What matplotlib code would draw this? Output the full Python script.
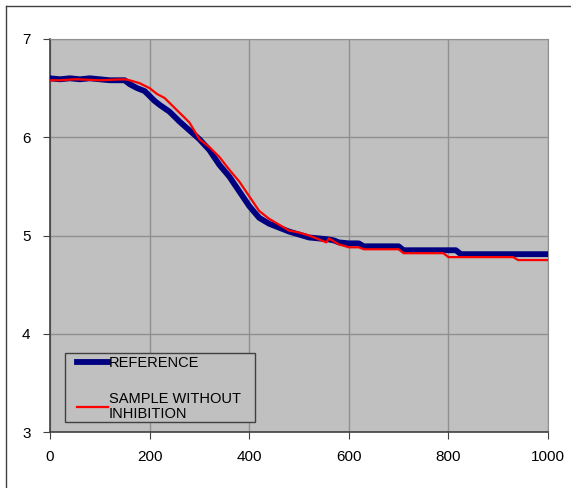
import matplotlib.pyplot as plt
from matplotlib.lines import Line2D
from matplotlib.patches import Rectangle

plt.rcParams['font.family'] = ['Liberation Sans', 'DejaVu Sans']

# curva de referencia (azul)
ref_x = [0, 20, 40, 60, 80, 100, 120, 150, 160, 175, 190, 200, 210, 220, 240,
         260, 280, 300, 320, 340, 360, 380, 400, 420, 440, 460, 480, 500, 520,
         540, 560, 570, 580, 600, 620, 630, 700, 710, 815, 825, 1000]
ref_y = [6.60, 6.59, 6.60, 6.59, 6.60, 6.59, 6.58, 6.58, 6.54, 6.50, 6.47, 6.42,
         6.37, 6.33, 6.26, 6.16, 6.07, 5.98, 5.87, 5.72, 5.60, 5.45, 5.30, 5.18,
         5.12, 5.08, 5.04, 5.01, 4.98, 4.97, 4.96, 4.95, 4.93, 4.92, 4.92, 4.89,
         4.89, 4.85, 4.85, 4.81, 4.81]

# muestra sin inhibicion (rojo)
smp_x = [0, 20, 50, 100, 150, 160, 180, 200, 215, 230, 250, 270, 280, 300, 320,
         340, 360, 380, 400, 420, 440, 460, 480, 500, 520, 540, 555, 560, 580,
         600, 620, 630, 700, 710, 790, 800, 930, 940, 1000]
smp_y = [6.58, 6.58, 6.59, 6.58, 6.59, 6.58, 6.55, 6.50, 6.44, 6.40, 6.30, 6.20,
         6.15, 5.98, 5.90, 5.80, 5.67, 5.55, 5.40, 5.25, 5.17, 5.11, 5.05, 5.03,
         5.00, 4.96, 4.93, 4.97, 4.91, 4.88, 4.88, 4.86, 4.86, 4.82, 4.82, 4.78,
         4.78, 4.75, 4.75]

x_ticks = [0, 200, 400, 600, 800, 1000]
y_ticks = [3, 4, 5, 6, 7]

fig = plt.figure(figsize=(5.71, 4.88), dpi=100)
ax = fig.add_axes([50/571, 1 - 432/488, 498/571, 393/488])
ax.set_facecolor('#c0c0c0')

ax.plot(ref_x, ref_y, color='#000080', lw=4.2, label='REFERENCE', zorder=3)
ax.plot(smp_x, smp_y, color='#ff0000', lw=1.6,
        label='SAMPLE WITHOUT\nINHIBITION', zorder=4)

ax.set_xlim(0, 1000)
ax.set_ylim(3, 7)
ax.set_xticks(x_ticks)
ax.set_yticks(y_ticks)
ax.grid(True, color='#909090', lw=1.0)
ax.set_axisbelow(True)
ax.tick_params(labelsize=11, length=5, color='#404040', direction='out')
ax.tick_params(axis='y', pad=9)
ax.tick_params(axis='x', pad=8)
for s in ['top', 'right']:
    ax.spines[s].set_color('#909090')
for s in ['left', 'bottom']:
    ax.spines[s].set_color('#404040')
    ax.spines[s].set_linewidth(1.2)

# caja de la leyenda dibujada aparte (estilo Excel, margen izquierdo ancho)
ax.add_patch(Rectangle((15/498, 10/393), 190/498, 69/393,
                       transform=ax.transAxes, facecolor='#c0c0c0',
                       edgecolor='#404040', lw=1.0, zorder=5))
leg = ax.legend(loc='lower left', bbox_to_anchor=(27/498, 11/393),
                fontsize=10.5, frameon=False, handlelength=2.1,
                handletextpad=0.1, labelspacing=1.5, borderpad=0,
                borderaxespad=0)
leg.set_zorder(6)
for t in leg.get_texts():
    t.set_linespacing(1.1)

# marco exterior (solo arriba e izquierda)
fig.add_artist(Line2D([6/571, 1], [1 - 6/488] * 2, transform=fig.transFigure,
                      color='#404040', lw=1.0))
fig.add_artist(Line2D([6/571] * 2, [0, 1 - 6/488], transform=fig.transFigure,
                      color='#404040', lw=1.0))

fig.savefig('out.png', dpi=100)
